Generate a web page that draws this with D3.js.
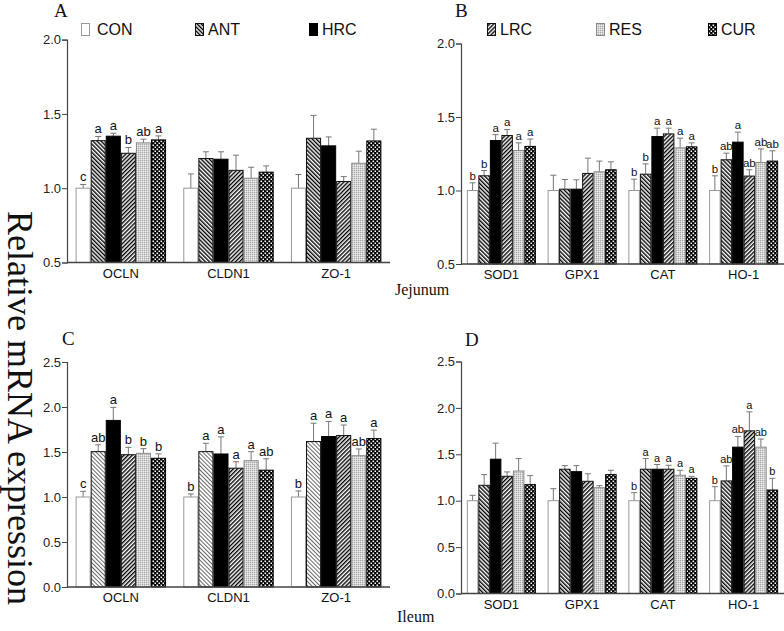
<!DOCTYPE html>
<html><head><meta charset="utf-8">
<script src="https://cdn.jsdelivr.net/npm/d3@7"></script>
<style>body{margin:0;background:#fff} svg{display:block}</style>
</head><body>
<svg id="c" width="784" height="631"></svg>
<script>
// ---------- data ----------
const treatments = ["CON", "ANT", "HRC", "LRC", "RES", "CUR"];
const genesTJ = ["OCLN", "CLDN1", "ZO-1"];
const genesAO = ["SOD1", "GPX1", "CAT", "HO-1"];

// Panel A: Jejunum, tight junction genes
const meanA = [
  [1.00, 1.32, 1.35, 1.235, 1.305, 1.325],
  [1.00, 1.20, 1.195, 1.12, 1.067, 1.108],
  [1.00, 1.336, 1.285, 1.045, 1.168, 1.318]
];
const semA = [
  [0.025, 0.028, 0.02, 0.039, 0.025, 0.027],
  [0.096, 0.045, 0.05, 0.102, 0.074, 0.042],
  [0.092, 0.154, 0.06, 0.033, 0.081, 0.079]
];
const letA = [
  ["c", "a", "a", "b", "ab", "a"],
  ["", "", "", "", "", ""],
  ["", "", "", "", "", ""]
];

// Panel B: Jejunum, antioxidant genes
const meanB = [
  [1.00, 1.10, 1.34, 1.374, 1.272, 1.30],
  [1.00, 1.009, 1.009, 1.116, 1.127, 1.141],
  [1.00, 1.111, 1.367, 1.385, 1.29, 1.297],
  [1.00, 1.209, 1.329, 1.098, 1.19, 1.20]
];
const semB = [
  [0.052, 0.036, 0.04, 0.041, 0.052, 0.05],
  [0.104, 0.066, 0.064, 0.104, 0.073, 0.054],
  [0.077, 0.07, 0.057, 0.039, 0.066, 0.027],
  [0.10, 0.045, 0.068, 0.043, 0.093, 0.07]
];
const letB = [
  ["b", "b", "a", "a", "a", "a"],
  ["", "", "", "", "", ""],
  ["b", "b", "a", "a", "a", "a"],
  ["b", "ab", "a", "ab", "ab", "ab"]
];

// Panel C: Ileum, tight junction genes
const meanC = [
  [1.00, 1.504, 1.851, 1.47, 1.485, 1.43],
  [1.00, 1.504, 1.478, 1.32, 1.403, 1.298],
  [1.00, 1.616, 1.672, 1.683, 1.459, 1.649]
];
const semC = [
  [0.063, 0.076, 0.145, 0.082, 0.052, 0.05],
  [0.034, 0.093, 0.19, 0.072, 0.101, 0.127],
  [0.067, 0.204, 0.168, 0.117, 0.075, 0.094]
];
const letC = [
  ["c", "ab", "a", "b", "b", "b"],
  ["b", "a", "a", "a", "a", "ab"],
  ["b", "a", "a", "a", "ab", "a"]
];

// Panel D: Ileum, antioxidant genes
const meanD = [
  [1.00, 1.166, 1.447, 1.263, 1.32, 1.173],
  [1.00, 1.339, 1.313, 1.209, 1.14, 1.281],
  [1.00, 1.339, 1.339, 1.339, 1.274, 1.241],
  [1.00, 1.213, 1.577, 1.753, 1.577, 1.115]
];
const semD = [
  [0.058, 0.115, 0.173, 0.047, 0.134, 0.097],
  [0.13, 0.039, 0.065, 0.081, 0.022, 0.047],
  [0.087, 0.115, 0.051, 0.043, 0.054, 0.022],
  [0.151, 0.162, 0.115, 0.204, 0.087, 0.126]
];
const letD = [
  ["", "", "", "", "", ""],
  ["", "", "", "", "", ""],
  ["b", "a", "a", "a", "a", "a"],
  ["b", "ab", "ab", "a", "ab", "b"]
];

const ticksTop = [0.5, 1.0, 1.5, 2.0];
const ticksBottom = [0.0, 0.5, 1.0, 1.5, 2.0, 2.5];

// ---------- drawing ----------
const svg = d3.select("#c");
const defs = svg.append("defs");
const SANS = "'Liberation Sans', Arial, sans-serif";
const SERIF = "'Liberation Serif', 'Times New Roman', serif";

function stripe(id, angle, period, lw, color) {
  const p = defs.append("pattern").attr("id", id)
    .attr("patternUnits", "userSpaceOnUse")
    .attr("width", period).attr("height", period)
    .attr("patternTransform", `rotate(${angle})`);
  p.append("rect").attr("width", period).attr("height", period).attr("fill", "#fff");
  p.append("rect").attr("width", lw).attr("height", period).attr("fill", color);
}
stripe("pANT", -45, 2.9, 1.4, "#000");
stripe("pANTc", -45, 2.9, 1.0, "#666");
stripe("pLRC", 45, 2.9, 1.4, "#000");

const pr = defs.append("pattern").attr("id", "pRES")
  .attr("patternUnits", "userSpaceOnUse").attr("width", 2).attr("height", 2);
pr.append("rect").attr("width", 2).attr("height", 2).attr("fill", "#d4d4d4");
pr.append("rect").attr("width", 1).attr("height", 1).attr("fill", "#a8a8a8");
pr.append("rect").attr("x", 1).attr("y", 1).attr("width", 1).attr("height", 1).attr("fill", "#ececec");

const pc = defs.append("pattern").attr("id", "pCUR")
  .attr("patternUnits", "userSpaceOnUse").attr("width", 4).attr("height", 4);
pc.append("rect").attr("width", 4).attr("height", 4).attr("fill", "#000");
pc.append("rect").attr("x", 0.5).attr("y", 0.5).attr("width", 1.6).attr("height", 1.6).attr("fill", "#fff");
pc.append("rect").attr("x", 2.5).attr("y", 2.5).attr("width", 1.6).attr("height", 1.6).attr("fill", "#fff");

const fills = {CON: "#fff", ANT: "url(#pANT)", HRC: "#000", LRC: "url(#pLRC)", RES: "url(#pRES)", CUR: "url(#pCUR)"};
const strokes = {CON: "#999", ANT: "#111", HRC: "#000", LRC: "#111", RES: "#888", CUR: "#000"};

function panel(cfg) {
  const g = svg.append("g");
  const x0 = d3.scaleBand().domain(cfg.genes).range(cfg.xr)
    .paddingInner(cfg.pi).paddingOuter(cfg.pi / 2);
  const x1 = d3.scaleBand().domain(treatments).range([0, x0.bandwidth()]);
  const y = d3.scaleLinear().domain(cfg.yd).range(cfg.yr);
  const bw = x1.bandwidth();

  cfg.genes.forEach((gene, gi) => {
    treatments.forEach((t, ti) => {
      const m = cfg.mean[gi][ti], s = cfg.sem[gi][ti];
      const bx = x0(gene) + x1(t);
      const cx = bx + bw / 2;
      // error bar
      g.append("line").attr("x1", cx).attr("x2", cx)
        .attr("y1", y(m)).attr("y2", y(m + s))
        .attr("stroke", "#777").attr("stroke-width", 1);
      g.append("line").attr("x1", cx - 3).attr("x2", cx + 3)
        .attr("y1", y(m + s)).attr("y2", y(m + s))
        .attr("stroke", "#777").attr("stroke-width", 1);
      // bar
      let f = fills[t];
      if (t === "ANT" && cfg.lightAnt) f = "url(#pANTc)";
      g.append("rect")
        .attr("x", bx + 0.5).attr("width", bw - 1)
        .attr("y", y(m)).attr("height", y(cfg.yd[0]) - y(m))
        .attr("fill", f).attr("stroke", strokes[t]).attr("stroke-width", 1);
      const lt = cfg.letters[gi][ti];
      if (lt) {
        g.append("text").attr("x", cx).attr("y", y(m + s) - 3)
          .attr("text-anchor", "middle").attr("font-family", SANS)
          .attr("font-size", cfg.letterSize).attr("fill", "#111").text(lt);
      }
    });
    g.append("text").attr("x", x0(gene) + x0.bandwidth() / 2).attr("y", cfg.labelY)
      .attr("text-anchor", "middle").attr("font-family", SANS)
      .attr("font-size", 13).attr("fill", "#111").text(gene);
  });

  // y axis
  const ax = g.append("g").attr("transform", `translate(${cfg.xr[0]},0)`)
    .call(d3.axisLeft(y).tickValues(cfg.ticks).tickSize(5).tickPadding(1)
      .tickFormat(d3.format(".1f")));
  ax.select(".domain").attr("stroke", "#444").attr("stroke-width", 1.2);
  ax.selectAll(".tick line").attr("stroke", "#444");
  ax.selectAll(".tick text").attr("font-family", SANS).attr("font-size", 13).attr("fill", "#222");
  // x baseline
  g.append("line").attr("x1", cfg.xr[0]).attr("x2", cfg.xr[1])
    .attr("y1", y(cfg.yd[0])).attr("y2", y(cfg.yd[0]))
    .attr("stroke", "#444").attr("stroke-width", 1.4);
  // panel letter
  g.append("text").attr("x", cfg.tag[1]).attr("y", cfg.tag[2])
    .attr("font-family", SERIF).attr("font-size", 19).attr("fill", "#111").text(cfg.tag[0]);
}

panel({genes: genesTJ, xr: [67, 390], pi: 0.16, yd: [0.5, 2.0], yr: [262.5, 39.6],
  ticks: ticksTop, mean: meanA, sem: semA, letters: letA, labelY: 278, letterSize: 13, tag: ["A", 54, 17]});
panel({genes: genesAO, xr: [461, 784], pi: 0.145, yd: [0.5, 2.0], yr: [264, 43.5],
  ticks: ticksTop, mean: meanB, sem: semB, letters: letB, labelY: 279, letterSize: 11.5, tag: ["B", 455, 17]});
panel({genes: genesTJ, xr: [67, 390], pi: 0.16, yd: [0.0, 2.5], yr: [587, 362],
  ticks: ticksBottom, mean: meanC, sem: semC, letters: letC, labelY: 602, letterSize: 13, lightAnt: true, tag: ["C", 62, 345]});
panel({genes: genesAO, xr: [461, 784], pi: 0.145, yd: [0.0, 2.5], yr: [593.5, 361.5],
  ticks: ticksBottom, mean: meanD, sem: semD, letters: letD, labelY: 609, letterSize: 11, tag: ["D", 465, 346]});

// legend
const legendPos = [81, 195, 309, 487, 596, 708];
const lg = svg.append("g");
treatments.forEach((t, i) => {
  lg.append("rect").attr("x", legendPos[i] + 0.5).attr("y", 23.5).attr("width", 8).attr("height", 12)
    .attr("fill", fills[t]).attr("stroke", strokes[t]).attr("stroke-width", 1);
  lg.append("text").attr("x", legendPos[i] + (i === 0 ? 16 : 13)).attr("y", 35)
    .attr("font-family", SANS).attr("font-size", 16).attr("fill", "#111").text(t);
});

// section labels
svg.append("text").attr("x", 395).attr("y", 295).attr("font-family", SERIF)
  .attr("font-size", 16).attr("fill", "#111").text("Jejunum");
svg.append("text").attr("x", 397).attr("y", 622).attr("font-family", SERIF)
  .attr("font-size", 16).attr("fill", "#111").text("Ileum");

// y title
svg.append("text").attr("transform", "translate(8,408) rotate(90)")
  .attr("text-anchor", "middle").attr("font-family", SERIF)
  .attr("font-size", 36).attr("fill", "#111").text("Relative mRNA expression");
</script>
</body></html>
